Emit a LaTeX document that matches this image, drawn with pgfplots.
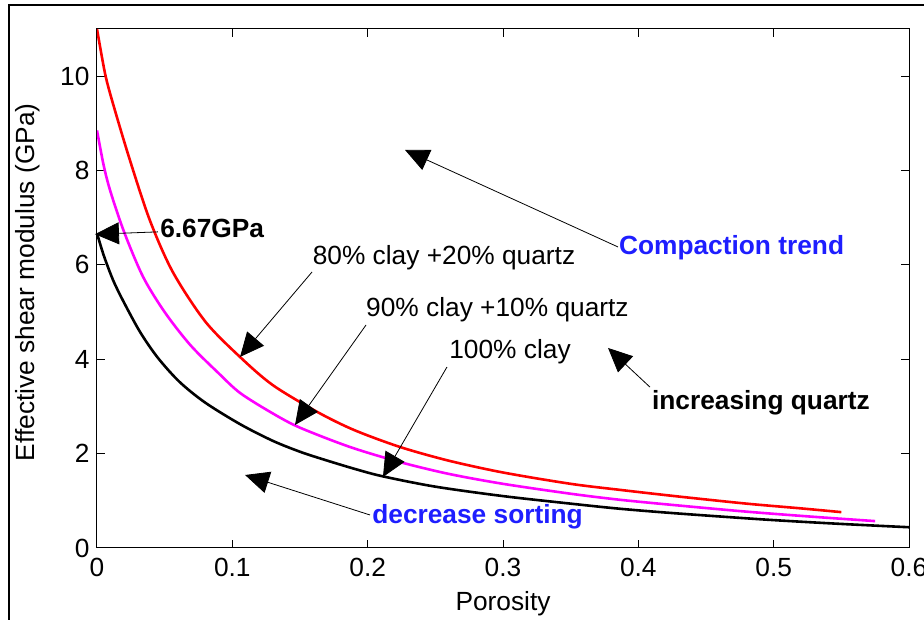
\documentclass[border=0pt]{standalone}
\usepackage{fontspec}
\setmainfont{Liberation Sans}
\usepackage{pgfplots}
\pgfplotsset{compat=1.18}
\usetikzlibrary{arrows.meta}
\newcommand\fs{\fontsize{26.3}{31}\selectfont}
\definecolor{annblue}{RGB}{30,30,255}
\definecolor{mag}{RGB}{255,0,255}
\definecolor{rd}{RGB}{255,0,0}
\begin{document}
\begin{tikzpicture}[x=1pt,y=1pt]
\path[use as bounding box, clip] (0,0) rectangle (924,620);
\draw[line width=2pt] (9,-10) -- (9,615) -- (940,615);
\begin{axis}[
  at={(97pt,72pt)}, anchor=south west,
  scale only axis, width=812pt, height=519pt,
  xmin=0, xmax=0.6, ymin=0, ymax=11,
  xtick={0,0.1,0.2,0.3,0.4,0.5,0.6},
  xticklabels={0,0.1,0.2,0.3,0.4,0.5,0.6},
  ytick={0,2,4,6,8,10},
  yticklabels={0,2,4,6,8,10},
  /pgf/number format/assume math mode=true,
  tick align=inside,
  major tick length=8pt,
  every tick/.style={black, line width=1pt},
  axis line style={black, line width=1pt},
  tick label style={font=\fs, black},
  xticklabel style={yshift=-7pt},
  yticklabel style={xshift=-4pt},
  label style={font=\fs, black},
  xlabel={Porosity},
  ylabel={Effective shear modulus (GPa)},
  xlabel style={at={(axis description cs:0.5,-0.108)}, anchor=center},
  ylabel style={at={(axis description cs:-0.085,0.512)}, anchor=center},
]
\addplot[rd, line width=2.6pt, smooth] coordinates {
(0,11.0) (0.006,10.05) (0.012,9.4) (0.024,8.25) (0.039,6.95) (0.056,5.85)
(0.08,4.8) (0.106,4.04) (0.13,3.45) (0.163,2.88) (0.19,2.5) (0.224,2.14)
(0.26,1.85) (0.3,1.6) (0.35,1.36) (0.387,1.23) (0.43,1.09) (0.48,0.94)
(0.52,0.84) (0.55,0.76)};
\addplot[mag, line width=2.6pt, smooth] coordinates {
(0,8.85) (0.005,8.1) (0.01,7.55) (0.02,6.7) (0.034,5.75) (0.05,5.0)
(0.069,4.3) (0.09,3.7) (0.106,3.28) (0.13,2.85) (0.15,2.55) (0.187,2.14)
(0.224,1.82) (0.26,1.57) (0.3,1.36) (0.35,1.15) (0.387,1.02) (0.43,0.9)
(0.48,0.77) (0.53,0.66) (0.575,0.57)};
\addplot[black, line width=2.6pt, smooth] coordinates {
(0,6.67) (0.005,6.2) (0.012,5.67) (0.02,5.2) (0.032,4.57) (0.045,4.03)
(0.061,3.52) (0.08,3.08) (0.106,2.62) (0.13,2.27) (0.15,2.04) (0.167,1.88)
(0.19,1.68) (0.211,1.52) (0.25,1.3) (0.3,1.1) (0.35,0.94) (0.387,0.83)
(0.43,0.73) (0.495,0.6) (0.55,0.51) (0.6,0.44)};
% annotation anchors
\coordinate (t1) at (axis cs:0.045,6.70);  \coordinate (h1) at (axis cs:-0.0015,6.65);
\coordinate (l1) at (axis cs:0.0466,6.78);
\coordinate (t2) at (axis cs:0.1589,5.85); \coordinate (h2) at (axis cs:0.1057,4.05);
\coordinate (l2) at (axis cs:0.2564,6.147);
\coordinate (t3) at (axis cs:0.1988,4.727); \coordinate (h3) at (axis cs:0.1463,2.607);
\coordinate (l3) at (axis cs:0.2959,5.045);
\coordinate (t4) at (axis cs:0.2586,3.836); \coordinate (h4) at (axis cs:0.2113,1.505);
\coordinate (l4) at (axis cs:0.3052,4.154);
\coordinate (t5) at (axis cs:0.385,6.38); \coordinate (h5) at (axis cs:0.2276,8.436);
\coordinate (l5) at (axis cs:0.4689,6.36);
\coordinate (t6) at (axis cs:0.4086,3.41); \coordinate (h6) at (axis cs:0.3776,4.24);
\coordinate (l6) at (axis cs:0.4906,3.073);
\coordinate (t7) at (axis cs:0.2017,0.70); \coordinate (h7) at (axis cs:0.1094,1.547);
\coordinate (l7) at (axis cs:0.2812,0.657);
\end{axis}
\tikzset{ann/.style={line width=0.8pt, black, -{Triangle[length=24pt,width=22pt]}}}
\draw[ann] (t1) -- (h1);
\draw[ann] (t2) -- (h2);
\draw[ann] (t3) -- (h3);
\draw[ann] (t4) -- (h4);
\draw[ann] (t5) -- (h5);
\draw[ann] (t6) -- (h6);
\draw[ann] (t7) -- (h7);
\node[anchor=west, inner sep=0pt, font=\fs\bfseries] at (l1) {6.67GPa};
\node[inner sep=0pt, font=\fs] at (l2) {80\% clay +20\% quartz};
\node[inner sep=0pt, font=\fs] at (l3) {90\% clay +10\% quartz};
\node[inner sep=0pt, font=\fs] at (l4) {100\% clay};
\node[inner sep=0pt, font=\fs\bfseries, text=annblue] at (l5) {Compaction trend};
\node[inner sep=0pt, font=\fs\bfseries] at (l6) {increasing quartz};
\node[inner sep=0pt, font=\fs\bfseries, text=annblue] at (l7) {decrease sorting};
\end{tikzpicture}
\end{document}
